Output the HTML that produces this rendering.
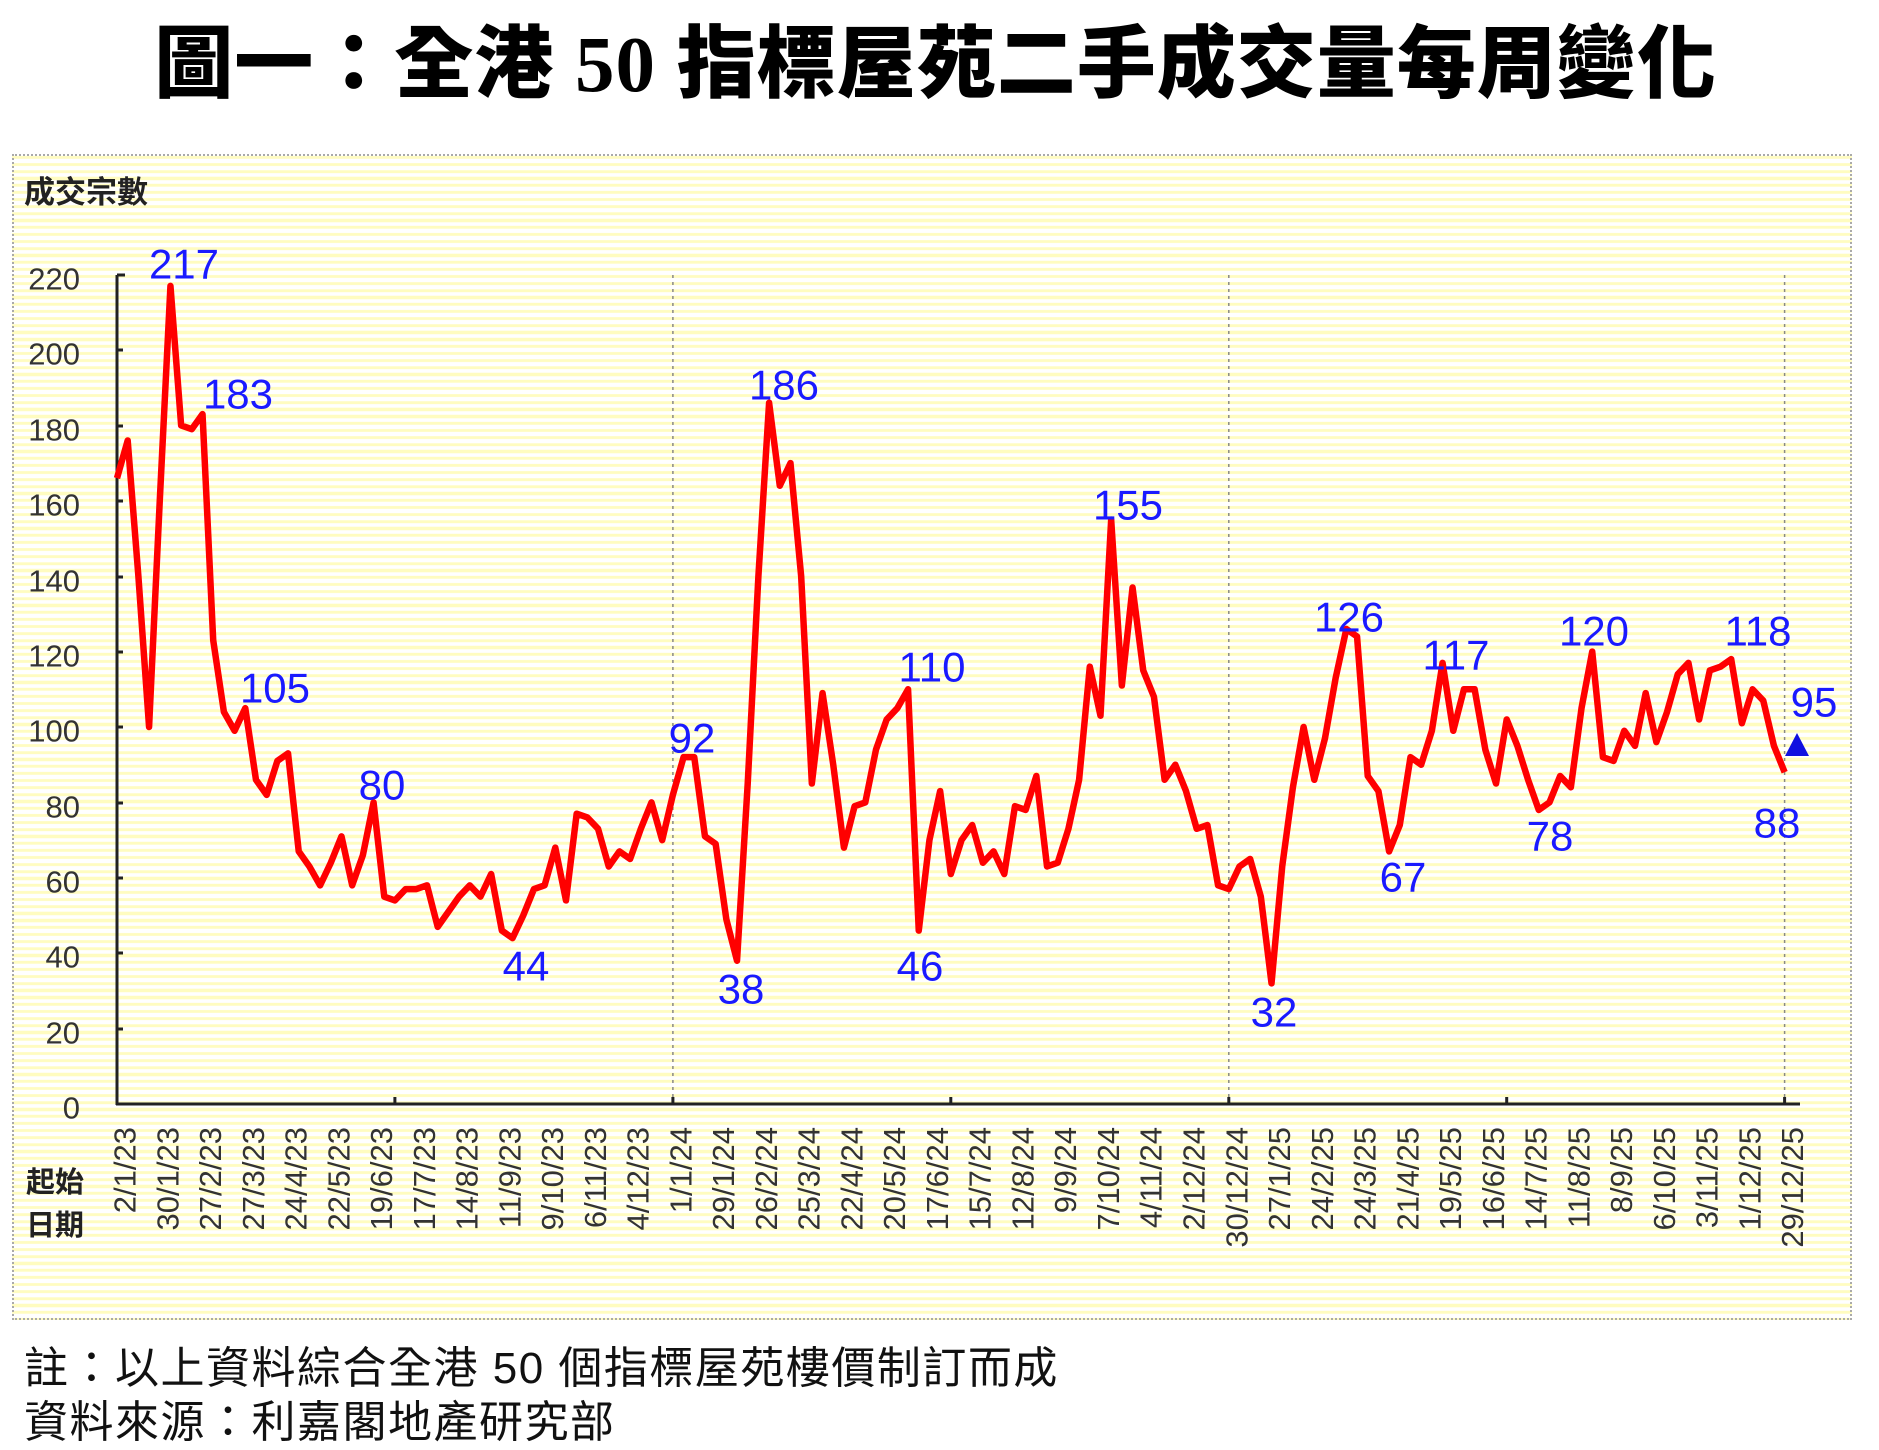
<!DOCTYPE html>
<html><head><meta charset="utf-8"><style>
html,body{margin:0;padding:0;background:#fff;}
body{width:1879px;height:1437px;position:relative;overflow:hidden;font-family:"Liberation Sans","Noto Sans CJK TC",sans-serif;}
.title{position:absolute;left:-4px;width:1879px;top:18px;text-align:center;font-family:"Liberation Serif","Noto Sans CJK TC",serif;font-weight:900;font-size:79px;line-height:96px;color:#000;letter-spacing:1px;}
.panel{position:absolute;left:12px;top:154px;width:1840px;height:1166px;border:2px dotted #aaa;box-sizing:border-box;
background:repeating-linear-gradient(to bottom,#fffcc0 0px,#fffcc0 3px,#ffffff 3px,#ffffff 7px);}
.foot{position:absolute;left:24px;font-size:44px;letter-spacing:1.5px;color:#111;font-family:"Liberation Sans","Noto Sans CJK TC",sans-serif;}
</style></head><body>
<div class="title">圖一：全港 50 指標屋苑二手成交量每周變化</div>
<div class="panel"></div>
<svg width="1879" height="1437" style="position:absolute;left:0;top:0" xmlns="http://www.w3.org/2000/svg">
<text x="24" y="203" font-size="31" font-weight="bold" fill="#222" font-family="Liberation Sans, Noto Sans CJK TC, sans-serif">成交宗數</text>
<g stroke="#888" stroke-width="1.5" stroke-dasharray="3,4">
<line x1="672.9" y1="275" x2="672.9" y2="1104"/>
<line x1="1228.8" y1="275" x2="1228.8" y2="1104"/>
<line x1="1784.6" y1="275" x2="1784.6" y2="1104"/>
</g>
<g stroke="#222" stroke-width="3" fill="none">
<line x1="117" y1="275" x2="117" y2="1105"/>
<line x1="116" y1="1104" x2="1800" y2="1104"/>
<line x1="117" y1="275" x2="125" y2="275"/><line x1="117" y1="350" x2="123" y2="350"/><line x1="117" y1="426" x2="123" y2="426"/><line x1="117" y1="501" x2="123" y2="501"/><line x1="117" y1="577" x2="123" y2="577"/><line x1="117" y1="652" x2="123" y2="652"/><line x1="117" y1="727" x2="123" y2="727"/><line x1="117" y1="803" x2="123" y2="803"/><line x1="117" y1="878" x2="123" y2="878"/><line x1="117" y1="953" x2="123" y2="953"/><line x1="117" y1="1029" x2="123" y2="1029"/>
<line x1="394.9" y1="1097" x2="394.9" y2="1104"/><line x1="672.9" y1="1097" x2="672.9" y2="1104"/><line x1="950.8" y1="1097" x2="950.8" y2="1104"/><line x1="1228.8" y1="1097" x2="1228.8" y2="1104"/><line x1="1506.7" y1="1097" x2="1506.7" y2="1104"/><line x1="1784.6" y1="1097" x2="1784.6" y2="1104"/>
</g>
<g font-size="31" fill="#333" text-anchor="end" dominant-baseline="central">
<text x="80" y="279">220</text><text x="80" y="354">200</text><text x="80" y="430">180</text><text x="80" y="505">160</text><text x="80" y="581">140</text><text x="80" y="656">120</text><text x="80" y="731">100</text><text x="80" y="807">80</text><text x="80" y="882">60</text><text x="80" y="957">40</text><text x="80" y="1033">20</text><text x="80" y="1108">0</text>
</g>
<polyline fill="none" stroke="#ff0000" stroke-width="6.5" stroke-linejoin="round" vector-effect="non-scaling-stroke" transform="translate(117,1104) scale(10.69,-3.77)" points="0,166 1,176 2,140 3,100 4,160 5,217 6,180 7,179 8,183 9,123 10,104 11,99 12,105 13,86 14,82 15,91 16,93 17,67 18,63 19,58 20,64 21,71 22,58 23,66 24,80 25,55 26,54 27,57 28,57 29,58 30,47 31,51 32,55 33,58 34,55 35,61 36,46 37,44 38,50 39,57 40,58 41,68 42,54 43,77 44,76 45,73 46,63 47,67 48,65 49,73 50,80 51,70 52,82 53,92 54,92 55,71 56,69 57,49 58,38 59,85 60,140 61,186 62,164 63,170 64,140 65,85 66,109 67,90 68,68 69,79 70,80 71,94 72,102 73,105 74,110 75,46 76,70 77,83 78,61 79,70 80,74 81,64 82,67 83,61 84,79 85,78 86,87 87,63 88,64 89,73 90,86 91,116 92,103 93,155 94,111 95,137 96,115 97,108 98,86 99,90 100,83 101,73 102,74 103,58 104,57 105,63 106,65 107,55 108,32 109,63 110,84 111,100 112,86 113,97 114,113 115,126 116,124 117,87 118,83 119,67 120,74 121,92 122,90 123,99 124,117 125,99 126,110 127,110 128,94 129,85 130,102 131,95 132,86 133,78 134,80 135,87 136,84 137,105 138,120 139,92 140,91 141,99 142,95 143,109 144,96 145,104 146,114 147,117 148,102 149,115 150,116 151,118 152,101 153,110 154,107 155,95 156,88"/>
<polygon points="1797,733 1785,756 1809,756" fill="#1010e0"/>
<g font-size="42" fill="#1a1aff" text-anchor="middle" dominant-baseline="central">
<text x="184" y="264">217</text><text x="238" y="394">183</text><text x="275" y="688">105</text><text x="382" y="785">80</text><text x="526" y="966">44</text><text x="692" y="738">92</text><text x="741" y="989">38</text><text x="784" y="385">186</text><text x="920" y="966">46</text><text x="932" y="667">110</text><text x="1128" y="505">155</text><text x="1274" y="1012">32</text><text x="1349" y="617">126</text><text x="1403" y="877">67</text><text x="1456" y="655">117</text><text x="1550" y="836">78</text><text x="1594" y="631">120</text><text x="1758" y="631">118</text><text x="1777" y="823">88</text><text x="1814" y="702">95</text>
</g>
<g font-size="29" font-weight="bold" fill="#222" font-family="Liberation Sans, Noto Sans CJK TC, sans-serif">
<text x="26" y="1192">起始</text><text x="26" y="1235">日期</text>
</g>
<g font-size="31" fill="#333" text-anchor="end" dominant-baseline="central">
<text transform="translate(125,1127) rotate(-90)">2/1/23</text>
<text transform="translate(167.8,1127) rotate(-90)">30/1/23</text>
<text transform="translate(210.5,1127) rotate(-90)">27/2/23</text>
<text transform="translate(253.3,1127) rotate(-90)">27/3/23</text>
<text transform="translate(296,1127) rotate(-90)">24/4/23</text>
<text transform="translate(338.8,1127) rotate(-90)">22/5/23</text>
<text transform="translate(381.6,1127) rotate(-90)">19/6/23</text>
<text transform="translate(424.3,1127) rotate(-90)">17/7/23</text>
<text transform="translate(467.1,1127) rotate(-90)">14/8/23</text>
<text transform="translate(509.8,1127) rotate(-90)">11/9/23</text>
<text transform="translate(552.6,1127) rotate(-90)">9/10/23</text>
<text transform="translate(595.4,1127) rotate(-90)">6/11/23</text>
<text transform="translate(638.1,1127) rotate(-90)">4/12/23</text>
<text transform="translate(680.9,1127) rotate(-90)">1/1/24</text>
<text transform="translate(723.6,1127) rotate(-90)">29/1/24</text>
<text transform="translate(766.4,1127) rotate(-90)">26/2/24</text>
<text transform="translate(809.2,1127) rotate(-90)">25/3/24</text>
<text transform="translate(851.9,1127) rotate(-90)">22/4/24</text>
<text transform="translate(894.7,1127) rotate(-90)">20/5/24</text>
<text transform="translate(937.4,1127) rotate(-90)">17/6/24</text>
<text transform="translate(980.2,1127) rotate(-90)">15/7/24</text>
<text transform="translate(1023,1127) rotate(-90)">12/8/24</text>
<text transform="translate(1065.7,1127) rotate(-90)">9/9/24</text>
<text transform="translate(1108.5,1127) rotate(-90)">7/10/24</text>
<text transform="translate(1151.2,1127) rotate(-90)">4/11/24</text>
<text transform="translate(1194,1127) rotate(-90)">2/12/24</text>
<text transform="translate(1236.8,1127) rotate(-90)">30/12/24</text>
<text transform="translate(1279.5,1127) rotate(-90)">27/1/25</text>
<text transform="translate(1322.3,1127) rotate(-90)">24/2/25</text>
<text transform="translate(1365,1127) rotate(-90)">24/3/25</text>
<text transform="translate(1407.8,1127) rotate(-90)">21/4/25</text>
<text transform="translate(1450.6,1127) rotate(-90)">19/5/25</text>
<text transform="translate(1493.3,1127) rotate(-90)">16/6/25</text>
<text transform="translate(1536.1,1127) rotate(-90)">14/7/25</text>
<text transform="translate(1578.8,1127) rotate(-90)">11/8/25</text>
<text transform="translate(1621.6,1127) rotate(-90)">8/9/25</text>
<text transform="translate(1664.4,1127) rotate(-90)">6/10/25</text>
<text transform="translate(1707.1,1127) rotate(-90)">3/11/25</text>
<text transform="translate(1749.9,1127) rotate(-90)">1/12/25</text>
<text transform="translate(1792.6,1127) rotate(-90)">29/12/25</text>
</g>
</svg>
<div class="foot" style="top:1332px;">註：以上資料綜合全港 50 個指標屋苑樓價制訂而成</div>
<div class="foot" style="top:1386px;">資料來源：利嘉閣地產研究部</div>
</body></html>
